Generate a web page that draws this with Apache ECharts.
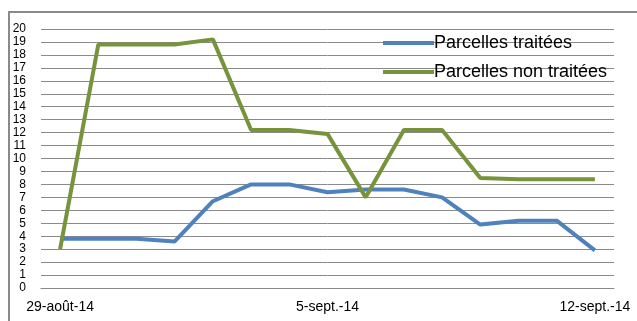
<!DOCTYPE html>
<html>
<head>
<meta charset="utf-8">
<script src="https://cdn.jsdelivr.net/npm/echarts@6/dist/echarts.min.js"></script>
<style>
  html, body { margin: 0; padding: 0; background: #fff; }
  #chart { width: 637px; height: 321px; }
</style>
</head>
<body>
<div id="chart"></div>
<script>
// dates (one per day)
var dates = ['29-août-14', '30-août-14', '31-août-14', '1-sept.-14', '2-sept.-14', '3-sept.-14', '4-sept.-14',
  '5-sept.-14', '6-sept.-14', '7-sept.-14', '8-sept.-14', '9-sept.-14', '10-sept.-14', '11-sept.-14', '12-sept.-14'];
var traitees = [3.8, 3.8, 3.8, 3.6, 6.7, 8.0, 8.0, 7.4, 7.6, 7.6, 7.0, 4.9, 5.2, 5.2, 2.9];
var nonTraitees = [3.0, 18.8, 18.8, 18.8, 19.2, 12.2, 12.2, 11.9, 7.0, 12.2, 12.2, 8.5, 8.4, 8.4, 8.4];

var gray = '#8a8a8a';
var myChart = echarts.init(document.getElementById('chart'));

var option = {
    backgroundColor: '#fff',
    animation: false,
    graphic: [{
        type: 'rect',
        shape: { x: 9, y: 12, width: 700, height: 400 },
        style: { fill: 'none', stroke: gray, lineWidth: 2 }
    }],
    grid: { left: 41, right: 23, top: 29, bottom: 33 },
    legend: {
        orient: 'vertical',
        left: 378,
        top: 28,
        itemWidth: 51,
        itemHeight: 4,
        itemGap: 9,
        icon: 'rect',
        textStyle: { fontFamily: 'Liberation Sans', fontSize: 18, color: '#000', lineHeight: 20, padding: [0, 0, 0, -5] },
        data: ['Parcelles traitées', 'Parcelles non traitées']
    },
    xAxis: {
        type: 'category',
        data: dates,
        boundaryGap: true,
        axisLine: { lineStyle: { color: gray, width: 1 } },
        axisTick: { interval: 0, length: 6, lineStyle: { color: gray } },
        axisLabel: { interval: 6, color: '#000', fontFamily: 'Liberation Sans', fontSize: 14, margin: 12 },
        splitLine: { show: false }
    },
    yAxis: {
        type: 'value',
        min: 0,
        max: 20,
        interval: 1,
        axisLine: { show: false },
        axisTick: { show: false },
        axisLabel: { color: '#000', fontFamily: 'Liberation Sans', fontSize: 12, margin: 15 },
        splitLine: { lineStyle: { color: gray, width: 1 } }
    },
    series: [
        {
            name: 'Parcelles traitées',
            type: 'line',
            data: traitees,
            symbol: 'none',
            color: '#4f81bd',
            lineStyle: { width: 4, color: '#4f81bd' }
        },
        {
            name: 'Parcelles non traitées',
            type: 'line',
            data: nonTraitees,
            symbol: 'none',
            color: '#77933c',
            lineStyle: { width: 4, color: '#77933c' }
        }
    ]
};
myChart.setOption(option);
</script>
</body>
</html>
